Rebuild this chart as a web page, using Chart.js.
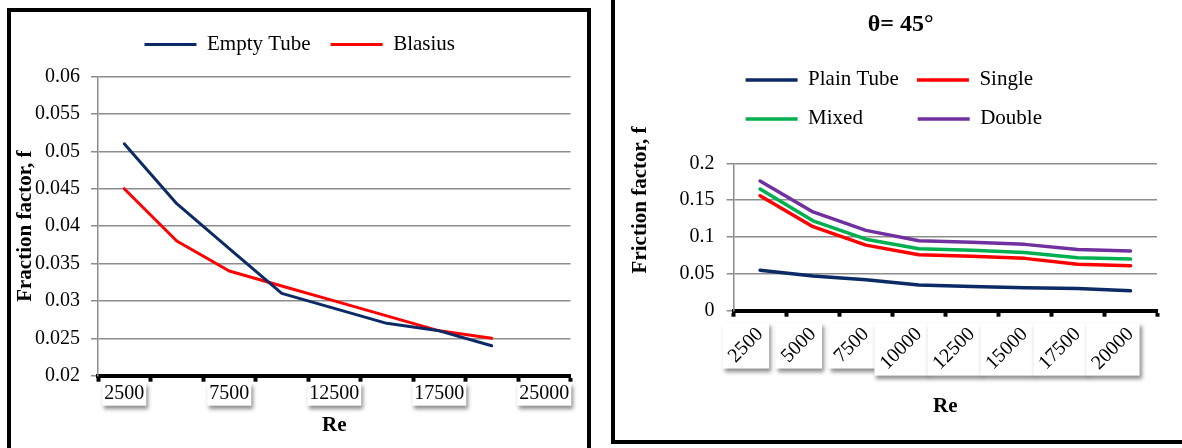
<!DOCTYPE html>
<html>
<head>
<meta charset="utf-8">
<script src="https://cdn.jsdelivr.net/npm/chart.js@4.4.1/dist/chart.umd.min.js"></script>
<style>
    html, body { margin: 0; padding: 0; background: #fff; }
    body { width: 1182px; height: 448px; position: relative; overflow: hidden; }
    .frame { position: absolute; border: 4px solid #000; box-sizing: border-box; background: #fff; }
    #leftFrame { left: 7px; top: 8px; width: 584px; height: 460px; }
    #rightFrame { left: 611px; top: -10px; width: 590px; height: 454px; }
    canvas { position: absolute; }
    #leftChart { left: 11px; top: 12px; }
    #rightChart { left: 615px; top: 0px; }
</style>
</head>
<body>
<div class="frame" id="leftFrame"></div>
<div class="frame" id="rightFrame"></div>
<canvas id="leftChart" width="576" height="436"></canvas>
<canvas id="rightChart" width="567" height="440"></canvas>
<script>
// left chart: empty tube vs Blasius
var leftRe = ['2500', '5000', '7500', '10000', '12500', '15000', '17500', '20000', '25000'];
var leftXTicks = ['2500', '', '7500', '', '12500', '', '17500', '', '25000'];
var leftYTicks = [0.02, 0.025, 0.03, 0.035, 0.04, 0.045, 0.05, 0.055, 0.06];
var emptyTube = [0.051, 0.043, 0.037, 0.031, 0.029, 0.027, 0.026, 0.024];
var blasius = [0.045, 0.038, 0.034, 0.032, 0.030, 0.028, 0.026, 0.025];

// right chart: theta = 45
var rightRe = ['2500', '5000', '7500', '10000', '12500', '15000', '17500', '20000'];
var rightYTicks = [0, 0.05, 0.1, 0.15, 0.2];
var plainTube = [0.055, 0.047, 0.042, 0.035, 0.033, 0.031, 0.030, 0.027];
var single = [0.156, 0.114, 0.089, 0.076, 0.074, 0.071, 0.063, 0.061];
var mixed = [0.165, 0.122, 0.097, 0.084, 0.082, 0.079, 0.072, 0.070];
var doubleTw = [0.176, 0.134, 0.109, 0.095, 0.093, 0.090, 0.083, 0.081];

Chart.defaults.font.family = "'Liberation Serif', 'Times New Roman', serif";
Chart.defaults.color = '#000';

var GRID = '#8c8c8c';

function fmt(v) {
    return String(Number(v.toFixed(3)));
}

function shiftDraw(obj, dx, dy, name) {
    var orig = obj[name];
    obj[name] = function() {
        this.ctx.save();
        this.ctx.translate(dx, dy);
        orig.apply(this, arguments);
        this.ctx.restore();
    };
}

// small layout tweaks + the white shadowed boxes under the x labels
function makeTweaks(t) {
    return {
        id: 'tweaks',
        beforeInit: function(chart) {
            var legend = chart.legend;
            var fit = legend.fit;
            legend.fit = function() {
                fit.call(this);
                this.height += t.legendExtra || 0;
            };
            shiftDraw(legend, t.legendShift || 0, 0, 'draw');
            if (t.titleShift && chart.titleBlock) {
                shiftDraw(chart.titleBlock, t.titleShift, 0, 'draw');
            }
        },
        afterLayout: function(chart) {
            var y = chart.scales.y;
            if (!t.yTitleShift || y._titlePatched) return;
            shiftDraw(y, 0, t.yTitleShift, 'drawTitle');
            y._titlePatched = true;
        },
        beforeDraw: function(chart) {
            var ctx = chart.ctx;
            var x = chart.scales.x;
            ctx.save();
            ctx.fillStyle = '#fff';
            ctx.shadowColor = 'rgba(0,0,0,0.45)';
            ctx.shadowBlur = 4;
            ctx.shadowOffsetX = 2;
            ctx.shadowOffsetY = 3;
            x.getLabelItems().forEach(function(item) {
                if (!item.label) return;
                var o = item.options;
                ctx.font = item.font.string;
                var w = ctx.measureText(item.label).width;
                var h = item.font.size;
                var x0 = o.textAlign === 'right' ? -w : (o.textAlign === 'center' ? -w / 2 : 0);
                var y0 = item.textOffset - h / 2;
                var c = Math.cos(o.rotation), s = Math.sin(o.rotation);
                var xs = [], ys = [];
                [[x0, y0], [x0 + w, y0], [x0, y0 + h], [x0 + w, y0 + h]].forEach(function(p) {
                    xs.push(o.translation[0] + p[0] * c - p[1] * s);
                    ys.push(o.translation[1] + p[0] * s + p[1] * c);
                });
                var l = Math.min.apply(null, xs) - t.boxPad;
                var r = Math.max.apply(null, xs) + t.boxPad;
                var tp = Math.min.apply(null, ys) - 1;
                var b = Math.max.apply(null, ys) + 2;
                ctx.fillRect(l, tp, r - l, b - tp);
            });
            ctx.restore();
        }
    };
}

function lineSet(label, data, color, width) {
    return {
        label: label,
        data: data,
        borderColor: color,
        backgroundColor: color,
        borderWidth: width,
        pointRadius: 0,
        tension: 0,
        borderJoinStyle: 'round',
        borderCapStyle: 'round'
    };
}

document.addEventListener('DOMContentLoaded', function() {
    new Chart(document.getElementById('leftChart'), {
        type: 'line',
        data: {
            labels: leftRe,
            datasets: [
                lineSet('Empty Tube', emptyTube, '#0c2a66', 3),
                lineSet('Blasius', blasius, '#ff0000', 3)
            ]
        },
        options: {
            responsive: false,
            animation: false,
            layout: { padding: { left: 2, right: 16.5, top: 2, bottom: 0 } },
            plugins: {
                legend: {
                    position: 'top',
                    labels: {
                        usePointStyle: true,
                        pointStyle: 'line',
                        pointStyleWidth: 52,
                        padding: 20,
                        color: '#000',
                        font: { size: 21 }
                    }
                },
                tooltip: { enabled: false }
            },
            scales: {
                x: {
                    offset: true,
                    afterFit: function(s) { s.height = 72.3; },
                    grid: { drawOnChartArea: false, tickLength: 6, tickWidth: 4, tickColor: '#000', offset: true },
                    border: { color: '#000', width: 4 },
                    ticks: {
                        autoSkip: false, maxRotation: 0, minRotation: 0, padding: 0,
                        color: '#000', font: { size: 20 },
                        callback: function(v, i) { return leftXTicks[i]; }
                    },
                    title: { display: true, text: 'Re', color: '#000', font: { size: 21, weight: 'bold' }, padding: { top: 0, bottom: 9.4 } }
                },
                y: {
                    min: leftYTicks[0],
                    max: leftYTicks[leftYTicks.length - 1],
                    afterBuildTicks: function(s) { s.ticks = leftYTicks.map(function(v) { return { value: v }; }); },
                    afterFit: function(s) { s.width = 85; },
                    grid: { color: GRID, lineWidth: 1.5, tickLength: 7, tickColor: GRID },
                    border: { color: GRID, width: 1.5 },
                    ticks: { padding: 11, color: '#000', font: { size: 20 }, callback: fmt },
                    title: { display: true, text: 'Fraction factor, f', color: '#000', font: { size: 21, weight: 'bold' }, padding: { top: 0, bottom: 0 } }
                }
            }
        },
        plugins: [makeTweaks({ legendExtra: 11.5, legendShift: 8, yTitleShift: 0, boxPad: 2 })]
    });

    new Chart(document.getElementById('rightChart'), {
        type: 'line',
        data: {
            labels: rightRe,
            datasets: [
                lineSet('Plain Tube', plainTube, '#0c2a66', 3.5),
                lineSet('Single', single, '#ff0000', 3.5),
                lineSet('Mixed', mixed, '#00b050', 3.5),
                lineSet('Double', doubleTw, '#7030a0', 3.5)
            ]
        },
        options: {
            responsive: false,
            animation: false,
            layout: { padding: { left: 13.4, right: 25, top: 0, bottom: 0 } },
            plugins: {
                title: {
                    display: true,
                    text: 'θ= 45°',
                    color: '#000',
                    font: { size: 24, weight: 'bold' },
                    padding: { top: 10.6, bottom: 12 }
                },
                legend: {
                    position: 'top',
                    fullSize: false,
                    align: 'start',
                    labels: {
                        usePointStyle: true,
                        pointStyle: 'line',
                        pointStyleWidth: 52,
                        padding: 18,
                        color: '#000',
                        font: { size: 21 },
                        generateLabels: function(chart) {
                            var items = Chart.defaults.plugins.legend.labels.generateLabels(chart);
                            // keep the two legend columns lined up
                            items[2].text = items[2].text + '       ';
                            return items;
                        }
                    }
                },
                tooltip: { enabled: false }
            },
            scales: {
                x: {
                    offset: true,
                    afterFit: function(s) { s.height = 129.3; s.paddingLeft = 0; s.paddingRight = 0; },
                    grid: { drawOnChartArea: false, tickLength: 6, tickWidth: 4, tickColor: '#000', offset: true },
                    border: { color: '#000', width: 4 },
                    ticks: { autoSkip: false, maxRotation: 45, minRotation: 45, padding: 6, color: '#000', font: { size: 20 } },
                    title: { display: true, text: 'Re', color: '#000', font: { size: 21, weight: 'bold' }, padding: { top: 0, bottom: 20.7 } }
                },
                y: {
                    min: rightYTicks[0],
                    max: rightYTicks[rightYTicks.length - 1],
                    afterBuildTicks: function(s) { s.ticks = rightYTicks.map(function(v) { return { value: v }; }); },
                    afterFit: function(s) { s.width = 105.2; },
                    grid: { color: GRID, lineWidth: 1.5, tickLength: 7, tickColor: GRID },
                    border: { color: GRID, width: 1.5 },
                    ticks: { padding: 12, color: '#000', font: { size: 20 }, callback: fmt },
                    title: { display: true, text: 'Friction factor, f', color: '#000', font: { size: 21, weight: 'bold' }, padding: { top: 0, bottom: 0 } }
                }
            }
        },
        plugins: [makeTweaks({ legendExtra: 23.9, legendShift: -6, titleShift: 8, yTitleShift: -37, boxPad: 2 })]
    });
});
</script>
</body>
</html>
